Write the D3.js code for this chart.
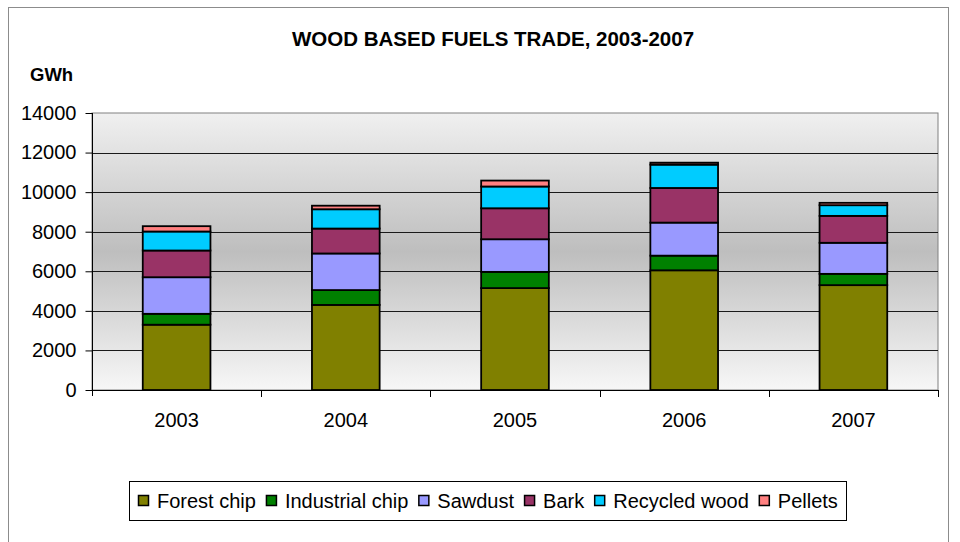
<!DOCTYPE html>
<html>
<head>
<meta charset="utf-8">
<script src="https://cdn.jsdelivr.net/npm/d3@7"></script>
<style>
  html, body { margin: 0; padding: 0; background: #fff; }
  svg { display: block; font-family: "Liberation Sans", Arial, sans-serif; }
</style>
</head>
<body>
<svg id="chart" width="960" height="542"></svg>
<script>
// Wood based fuels trade by fuel type, GWh
const years = ["2003", "2004", "2005", "2006", "2007"];
const seriesNames = ["Forest chip", "Industrial chip", "Sawdust", "Bark", "Recycled wood", "Pellets"];
const forestChip     = [3300, 4300, 5150, 6050, 5300];
const industrialChip = [550, 750, 820, 740, 570];
const sawdust        = [1850, 1850, 1650, 1670, 1570];
const bark           = [1350, 1260, 1565, 1750, 1360];
const recycledWood   = [960, 975, 1100, 1180, 540];
const pellets        = [270, 180, 300, 100, 120];
const yTicks = [0, 2000, 4000, 6000, 8000, 10000, 12000, 14000];
const colors = ["#808000", "#008000", "#9999FF", "#993366", "#00CCFF", "#FF8080"];

const seriesValues = [forestChip, industrialChip, sawdust, bark, recycledWood, pellets];
const rows = years.map((y, i) => {
  const r = { year: y };
  seriesNames.forEach((s, k) => { r[s] = seriesValues[k][i]; });
  return r;
});

const svg = d3.select("#chart");
const plot = { left: 92, top: 113, right: 938, bottom: 390 };

// outer chart frame
svg.append("rect")
  .attr("x", 8.5).attr("y", 7.5).attr("width", 940).attr("height", 560)
  .attr("fill", "#fff").attr("stroke", "#8c8c8c").attr("stroke-width", 1);

// plot area gradient
const defs = svg.append("defs");
const grad = defs.append("linearGradient").attr("id", "plotBg")
  .attr("x1", 0).attr("y1", 0).attr("x2", 0).attr("y2", 1);
grad.append("stop").attr("offset", "0%").attr("stop-color", "#f0f0f0");
grad.append("stop").attr("offset", "50%").attr("stop-color", "#bebebe");
grad.append("stop").attr("offset", "100%").attr("stop-color", "#f7f7f7");

const x = d3.scaleBand().domain(years).range([plot.left, plot.right]).paddingInner(0.6).paddingOuter(0.3);
const band = d3.scaleBand().domain(years).range([plot.left, plot.right]);
const y = d3.scaleLinear().domain([0, 14000]).range([plot.bottom, plot.top]);

svg.append("rect")
  .attr("x", plot.left).attr("y", plot.top)
  .attr("width", plot.right - plot.left).attr("height", plot.bottom - plot.top)
  .attr("fill", "url(#plotBg)").attr("stroke", "#808080").attr("stroke-width", 1);

// gridlines
svg.append("g").selectAll("line")
  .data(yTicks.filter(t => t > 0 && t < 14000))
  .join("line")
  .attr("x1", plot.left).attr("x2", plot.right)
  .attr("y1", d => Math.round(y(d)) + 0.5).attr("y2", d => Math.round(y(d)) + 0.5)
  .attr("stroke", "#1a1a1a").attr("stroke-width", 1);

// stacked bars
const stack = d3.stack().keys(seriesNames)(rows);
svg.append("g").selectAll("g")
  .data(stack)
  .join("g")
  .attr("fill", (d, i) => colors[i])
  .selectAll("rect")
  .data(d => d)
  .join("rect")
  .attr("x", d => x(d.data.year))
  .attr("width", x.bandwidth())
  .attr("y", d => y(d[1]))
  .attr("height", d => y(d[0]) - y(d[1]))
  .attr("stroke", "#000").attr("stroke-width", 1.8);

// y axis
const yAxis = svg.append("g")
  .attr("transform", `translate(${plot.left + 0.5},0)`)
  .call(d3.axisLeft(y).tickValues(yTicks).tickFormat(d3.format("d")).tickSizeOuter(0).tickSize(7).tickPadding(9));
yAxis.select(".domain").attr("stroke", "#000").attr("d", `M0,${plot.top}V${plot.bottom + 6}`);
yAxis.selectAll(".tick line").attr("stroke", "#000");
yAxis.selectAll("text").attr("font-size", 20).attr("fill", "#000")
  .attr("font-family", "'Liberation Sans', Arial, sans-serif");

// x axis
const xAxis = svg.append("g")
  .attr("transform", `translate(0,${plot.bottom + 0.5})`)
  .call(d3.axisBottom(band).tickSize(0).tickPadding(22));
xAxis.select(".domain").attr("stroke", "#000").attr("d", `M${plot.left},0H${plot.right}`);
xAxis.selectAll("text").attr("font-size", 20).attr("fill", "#000")
  .attr("font-family", "'Liberation Sans', Arial, sans-serif");
// category separator ticks
svg.append("g").selectAll("line")
  .data(years.slice(1).concat(["end"]))
  .join("line")
  .attr("x1", (d, i) => Math.round(plot.left + band.bandwidth() * (i + 1)) + 0.5)
  .attr("x2", (d, i) => Math.round(plot.left + band.bandwidth() * (i + 1)) + 0.5)
  .attr("y1", plot.bottom).attr("y2", plot.bottom + 7)
  .attr("stroke", "#000");

// title and unit
svg.append("text")
  .attr("x", 493).attr("y", 46).attr("text-anchor", "middle")
  .attr("font-size", 20.5).attr("font-weight", "bold")
  .text("WOOD BASED FUELS TRADE, 2003-2007");
svg.append("text")
  .attr("x", 30).attr("y", 81)
  .attr("font-size", 18.5).attr("font-weight", "bold")
  .text("GWh");

// legend
const legend = svg.append("g");
legend.append("rect")
  .attr("x", 129.5).attr("y", 481.5).attr("width", 717).attr("height", 39)
  .attr("fill", "#fff").attr("stroke", "#000").attr("stroke-width", 1);
let lx = 138;
seriesNames.forEach((name, i) => {
  legend.append("rect")
    .attr("x", lx + 0.5).attr("y", 495.5).attr("width", 10).attr("height", 10)
    .attr("fill", colors[i]).attr("stroke", "#000").attr("stroke-width", 1.5);
  const t = legend.append("text")
    .attr("x", lx + 19).attr("y", 508)
    .attr("font-size", 20)
    .text(name);
  lx += 19 + t.node().getComputedTextLength() + 10;
});
</script>
</body>
</html>
